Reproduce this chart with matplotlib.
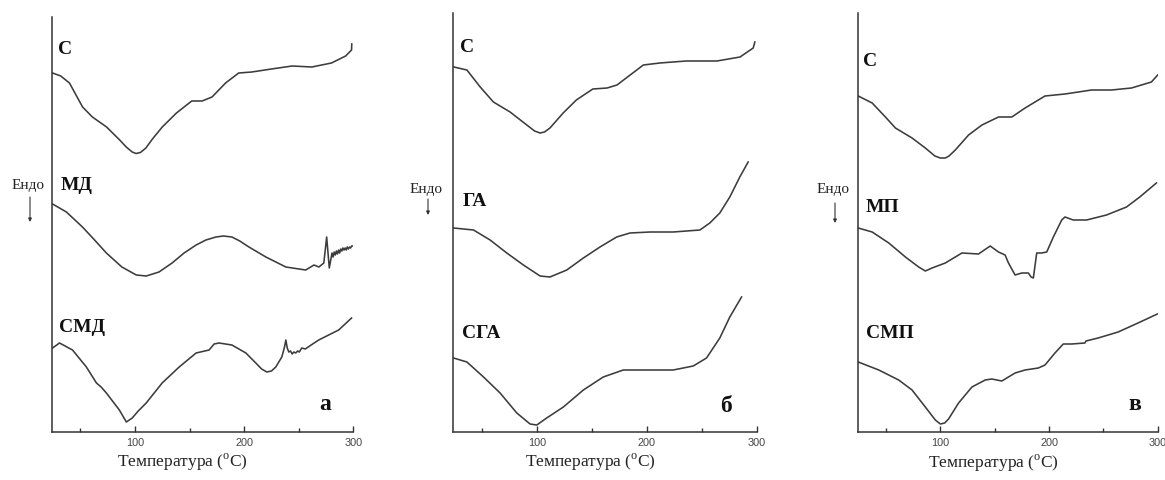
import matplotlib
matplotlib.use("Agg")
import matplotlib.pyplot as plt
from matplotlib.patches import FancyArrowPatch
from matplotlib.ticker import FixedLocator

W, H, DPI = 1165, 480, 100
LINE = "#3c3c3c"
SERIF = "Liberation Serif"
SANS = "Liberation Sans"

# ---- Panel а: С, МД, СМД --------------------------------------------------
t_c_a = [24.5, 32, 40, 52, 61, 74, 86, 92, 97.5, 101, 105, 110, 116, 125, 138, 152,
         161.5, 170.6, 183, 195, 207, 225, 244, 262, 280, 293, 298.4, 298.6]
q_c_a = [359, 356, 349, 325, 315, 305, 292, 285, 280, 278.5, 279.5, 284, 293, 305, 319, 331,
         331, 335, 349, 359, 360, 363, 366, 365, 369, 376, 382, 388]

t_md_a = [24.5, 37.2, 51.9, 63, 73.8, 88, 101.2, 110.3, 122, 134, 145, 156, 165, 174.2,
          181, 188.8, 196, 204.4, 219.9, 238.2, 256.4, 264, 268.5, 273, 275.6, 278, 280.5,
          281.5, 282.5, 283.5, 284.5, 285.5, 286.5, 287.5, 288.5, 289.5, 290.5, 291.5,
          292.5, 293.5, 294.5, 295.5, 296.5, 297.5, 298.5, 299.4]
q_md_a = [228, 220, 205, 192, 179, 165, 157, 156, 160, 169, 179, 187, 192, 195,
          196, 195, 191, 185, 175, 165, 162, 167, 165, 169, 195, 164, 179,
          175, 180, 177, 181, 178, 182, 179, 183, 181, 184, 182,
          184, 182, 185, 183, 185, 184, 186, 186]

t_smd_a = [24.5, 30.9, 42.8, 55.5, 64.7, 69, 73.8, 85.7, 92.1, 97.5, 103, 110.3, 124.9,
           140.5, 156, 167.9, 172.5, 177, 188.8, 201.6, 210.7, 216, 220.8, 225, 229, 234.5,
           237, 238.2, 239.5, 240.9, 242.5, 244, 245.5, 247.3, 249, 250.5, 252.8, 256, 260,
           268.3, 286.6, 298.4]
q_smd_a = [84, 89, 82, 65, 49, 45, 39, 22, 10, 14, 21, 29, 49,
           65, 79, 82, 88, 89, 87, 79, 69, 63, 60, 61, 65, 75,
           85, 92, 84, 80, 81, 78, 80, 79, 81, 80, 84, 83, 86,
           92, 102, 114]

# ---- Panel б: С, ГА, СГА --------------------------------------------------
t_c_b = [24.5, 36.4, 48.5, 60.5, 75.7, 90.9, 98, 103, 107, 112, 124, 136, 151, 164, 173,
         185, 197, 212, 236, 264, 285, 297, 298.5]
q_c_b = [365, 362, 345, 330, 320, 307, 301, 299, 300, 304, 319, 332, 343, 344, 347,
         357, 367, 369, 371, 371, 375, 384, 390]

t_ga_b = [24.2, 42.4, 57.5, 72.7, 87.8, 103, 112, 127.3, 142.4, 157.5, 172.7, 184.8,
          203, 224.2, 248.5, 257.5, 266.6, 275.7, 284.8, 292.4]
q_ga_b = [204, 202, 192, 179, 167, 156, 155, 162, 174, 185, 195, 199,
          200, 200, 202, 209, 219, 235, 255, 270]

t_sga_b = [24.2, 36.4, 51.5, 66.6, 81.8, 93.9, 100, 109, 124.2, 142.4, 160.5, 178.7,
           203, 224.2, 242.4, 254.5, 266.6, 275.7, 286.4]
q_sga_b = [74, 70, 55, 39, 19, 8, 7, 14, 25, 42, 55, 62,
           62, 62, 66, 74, 94, 115, 135]

# ---- Panel в: С, МП, СМП --------------------------------------------------
t_c_v = [24.5, 37.3, 49.5, 58.7, 74, 86.2, 95, 100, 104.6, 108, 113.8, 126, 138.3, 153.5,
         165.8, 178, 196.3, 214.7, 239.2, 257.5, 275.9, 294.2, 300]
q_c_v = [336, 329, 315, 304, 294, 284, 276, 274, 274, 276, 282, 297, 307, 315,
         315, 324, 336, 338, 342, 342, 344, 350, 357]

t_mp_v = [24.5, 37.3, 52.6, 67.9, 80.1, 86.2, 92.4, 104.6, 119.9, 135.1, 145.9, 153.5,
          159.6, 162.7, 168.8, 175, 181, 183.5, 185.6, 188.7, 193.3, 197.9, 204, 211.7,
          214.7, 222.3, 234.6, 252.9, 271.3, 283.5, 298.8]
q_mp_v = [204, 200, 189, 175, 165, 161, 164, 169, 179, 178, 186, 180,
          177, 169, 157, 159, 159, 155, 154, 179, 179, 180, 195, 212,
          215, 212, 212, 217, 225, 235, 249]

t_smp_v = [24.5, 43.4, 61.7, 74, 86.2, 95.4, 100, 104, 107.6, 116.8, 129.1, 141.3, 147.4,
           156.6, 168.8, 178, 190.2, 196.3, 205.5, 213.1, 220.8, 233, 234, 245.2,
           263.6, 281.9, 299.7]
q_smp_v = [70, 62, 52, 42, 25, 12, 8, 9, 13, 29, 45, 52, 53,
           51, 59, 62, 64, 67, 79, 88, 88, 89, 91, 94,
           100, 109, 118]

major_ticks = [100, 200, 300]
minor_ticks = [50, 150, 250]
xlabel = "Температура ($^{\\mathregular{o}}$C)"

panels = [
    dict(box=(52, 353.3, 17),
         curves=[(t_c_a, q_c_a, "С", (65, 50)),
                 (t_md_a, q_md_a, "МД", (77, 185)),
                 (t_smd_a, q_smd_a, "СМД", (82, 328))],
         letter=("а", (325, 404)), endo=(28, 185, 197, 222), xl=(182, 462)),
    dict(box=(453.3, 756.5, 13),
         curves=[(t_c_b, q_c_b, "С", (467, 47)),
                 (t_ga_b, q_ga_b, "ГА", (475, 202)),
                 (t_sga_b, q_sga_b, "СГА", (481, 333))],
         letter=("б", (726, 406)), endo=(426, 189, 199, 215), xl=(590, 462)),
    dict(box=(857.7, 1157.7, 13),
         curves=[(t_c_v, q_c_v, "С", (870, 61)),
                 (t_mp_v, q_mp_v, "МП", (882, 208)),
                 (t_smp_v, q_smp_v, "СМП", (890, 333))],
         letter=("в", (1135, 405)), endo=(833, 190, 203, 223), xl=(993, 463)),
]

AX_BOTTOM = 432

fig = plt.figure(figsize=(W / DPI, H / DPI), dpi=DPI)
fig.patch.set_facecolor("white")


def fx(x):
    return x / W


def fy(y):
    return 1 - y / H


for p in panels:
    x0, x1, top = p["box"]
    ax = fig.add_axes([fx(x0), fy(AX_BOTTOM), (x1 - x0) / W, (AX_BOTTOM - top) / H])
    for t, q, name, pos in p["curves"]:
        ax.plot(t, q, color=LINE, lw=1.15, solid_joinstyle="round")
        fig.text(fx(pos[0]), fy(pos[1]), name, ha="center", va="center",
                 family=SERIF, weight="bold", fontsize=14, color="#111111")
    ax.set_xlim(24, 300)
    ax.set_ylim(0, AX_BOTTOM - top)
    for side in ("top", "right"):
        ax.spines[side].set_visible(False)
    for side in ("left", "bottom"):
        ax.spines[side].set_color("#333333")
        ax.spines[side].set_linewidth(1.1)
    ax.set_yticks([])
    ax.xaxis.set_major_locator(FixedLocator(major_ticks))
    ax.xaxis.set_minor_locator(FixedLocator(minor_ticks))
    ax.tick_params(axis="x", which="major", direction="in", length=4, width=1,
                   color="#333333", labelsize=7.8, labelcolor="#444444", pad=4)
    ax.tick_params(axis="x", which="minor", direction="in", length=3, width=1,
                   color="#333333")
    for lab in ax.get_xticklabels():
        lab.set_family(SANS)
    ax.patch.set_alpha(0)

    letter, lpos = p["letter"]
    fig.text(fx(lpos[0]), fy(lpos[1]), letter, ha="center", va="center",
             family=SERIF, weight="bold", fontsize=17, color="#111111")

    ex, ey, a0, a1 = p["endo"]
    fig.text(fx(ex), fy(ey), "Ендо", ha="center", va="center",
             family=SERIF, fontsize=11, color="#222222")
    fig.add_artist(FancyArrowPatch(
        (fx(ex + 2), fy(a0)), (fx(ex + 2), fy(a1)), transform=fig.transFigure,
        arrowstyle="-|>", mutation_scale=5, lw=0.8, color="#333333",
        shrinkA=0, shrinkB=0))

    fig.text(fx(p["xl"][0]), fy(p["xl"][1]), xlabel, ha="center", va="center",
             family=SERIF, fontsize=12.5, color="#222222")

fig.savefig("out.png", dpi=DPI, facecolor="white")
